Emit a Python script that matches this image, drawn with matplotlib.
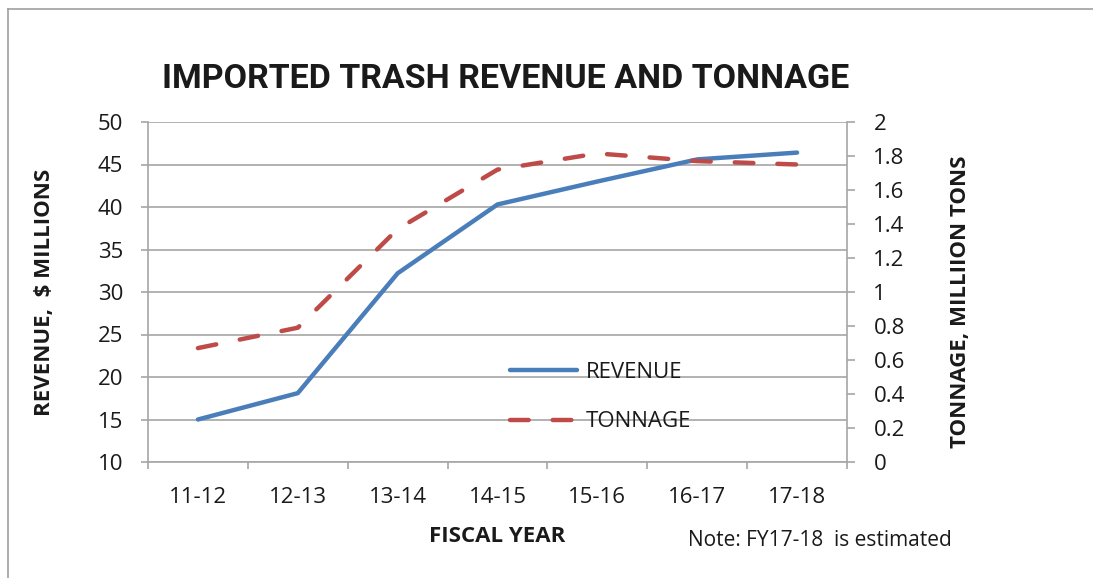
import matplotlib
matplotlib.use("Agg")
import matplotlib.pyplot as plt
from matplotlib.lines import Line2D
import numpy as np

years = ["11-12", "12-13", "13-14", "14-15", "15-16", "16-17", "17-18"]
revenue = [15.0, 18.1, 32.2, 40.3, 43.0, 45.6, 46.4]
tonnage = [0.67, 0.79, 1.37, 1.72, 1.815, 1.77, 1.75]
left_ticks = [10, 15, 20, 25, 30, 35, 40, 45, 50]
right_ticks = [0, 0.2, 0.4, 0.6, 0.8, 1.0, 1.2, 1.4, 1.6, 1.8, 2.0]
right_labels = ["0", "0.2", "0.4", "0.6", "0.8", "1", "1.2", "1.4", "1.6", "1.8", "2"]

FONT = "Open Sans"
TXT = "#1a1a1a"
GRID = "#a6a6a6"
BLUE = "#4a7ebb"
RED = "#be4b48"
TS = 16

W, H = 1093, 578
fig = plt.figure(figsize=(W / 100, H / 100), dpi=100)
fig.patch.set_facecolor("white")

# outer frame
fig.add_artist(Line2D([8 / W, 1.0], [1 - 9 / H, 1 - 9 / H], color="#a0a0a0", lw=1.2))
fig.add_artist(Line2D([8 / W, 8 / W], [0, 1 - 9 / H], color="#a0a0a0", lw=1.2))

ax = fig.add_axes([148 / W, 1 - 462 / H, (847 - 148) / W, (462 - 122) / H])
ax2 = ax.twinx()

x = np.arange(len(years))
ax.plot(x, revenue, color=BLUE, lw=3.2, solid_capstyle="round", solid_joinstyle="round", zorder=3)
ax2.plot(x, tonnage, color=RED, lw=3.2, dashes=(4.2, 5.4), dash_capstyle="round", zorder=3)

ax.set_xlim(-0.5, len(years) - 0.5)
ax.set_ylim(10, 50)
ax2.set_ylim(0, 2)

ax.set_yticks(left_ticks)
ax.set_yticklabels([str(v) for v in left_ticks])
ax2.set_yticks(right_ticks)
ax2.set_yticklabels(right_labels)

ax.set_xticks(np.arange(len(years) + 1) - 0.5)
ax.set_xticklabels([])
ax.set_xticks(x, minor=True)
ax.set_xticklabels(years, minor=True)

ax.grid(axis="y", color=GRID, lw=1.2, zorder=0)
ax.set_axisbelow(True)

for a in (ax, ax2):
    for s in a.spines.values():
        s.set_visible(False)
ax.spines["left"].set_visible(True)
ax.spines["bottom"].set_visible(True)
ax2.spines["right"].set_visible(True)
for s in (ax.spines["left"], ax.spines["bottom"], ax2.spines["right"]):
    s.set_color(GRID)
    s.set_linewidth(1.2)

ax.tick_params(axis="y", which="major", length=5, width=1.2, color=GRID, labelsize=TS,
               labelcolor=TXT, pad=13)
ax.tick_params(axis="x", which="major", length=5, width=1.2, color=GRID, direction="out")
ax.tick_params(axis="x", which="minor", length=0, labelsize=TS, labelcolor=TXT, pad=18)
ax2.tick_params(axis="y", length=6, width=1.2, color=GRID, labelsize=TS, labelcolor=TXT, pad=13)

for lab in ax.get_yticklabels() + ax2.get_yticklabels() + ax.get_xticklabels(minor=True):
    lab.set_fontfamily(FONT)

fig.text(506 / W, 1 - 79 / H, "IMPORTED TRASH REVENUE AND TONNAGE", ha="center", va="center",
         fontsize=24.5, fontweight="bold", family="Roboto", color=TXT)
fig.text(45 / W, 1 - 292 / H, "REVENUE,  $ MILLIONS", rotation=90, ha="center", va="center",
         fontsize=16, fontweight="bold", family=FONT, color=TXT)
fig.text(961 / W, 1 - 302 / H, "TONNAGE, MILLIION TONS", rotation=90, ha="center", va="center",
         fontsize=16, fontweight="bold", family=FONT, color=TXT)
fig.text(497 / W, 1 - 537 / H, "FISCAL YEAR", ha="center", va="center",
         fontsize=16, fontweight="bold", family=FONT, color=TXT)
fig.text(688 / W, 1 - 540 / H, "Note: FY17-18  is estimated", ha="left", va="center",
         fontsize=15, family=FONT, color=TXT)

handles = [Line2D([], [], color=BLUE, lw=3.2, solid_capstyle="round"),
           Line2D([], [], color=RED, lw=3.2, dashes=(4.2, 5.4), dash_capstyle="round")]
leg = ax.legend(handles, ["REVENUE", "TONNAGE"], loc="center left",
                bbox_to_anchor=((511 - 148) / 700, (462 - 397) / 340), frameon=False,
                handlelength=3.0, handletextpad=0.4, labelspacing=1.3,
                prop={"family": FONT, "size": TS}, borderpad=0, borderaxespad=0)
for t in leg.get_texts():
    t.set_color(TXT)

fig.savefig("out.png", dpi=100, facecolor="white")
